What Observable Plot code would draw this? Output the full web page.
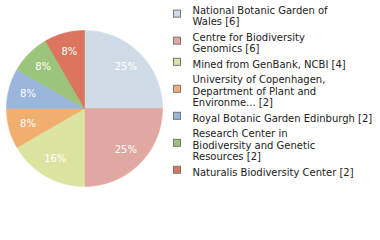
<!DOCTYPE html>
<html>
<head>
<meta charset="utf-8">
<script src="https://cdn.jsdelivr.net/npm/d3@7"></script>
<script src="https://cdn.jsdelivr.net/npm/@observablehq/plot@0.6"></script>
<style>
  html, body { margin: 0; padding: 0; background: #fff; }
  #chart { width: 380px; height: 240px; }
</style>
</head>
<body>
<div id="chart"></div>
<script>
// ---- data ----
const names = [
  "National Botanic Garden of\nWales",
  "Centre for Biodiversity\nGenomics",
  "Mined from GenBank, NCBI",
  "University of Copenhagen,\nDepartment of Plant and\nEnvironme...",
  "Royal Botanic Garden Edinburgh",
  "Research Center in\nBiodiversity and Genetic\nResources",
  "Naturalis Biodiversity Center"
];
const counts = [6, 6, 4, 2, 2, 2, 2];
const colors = ["#cfdbe6", "#e0a8a1", "#dde3a0", "#f0ae6f", "#9ab6dd", "#9dc47b", "#dc755e"];

// ---- layout ----
const W = 380, H = 240;
const cx = 84, cy = 108, R = 78;
const total = d3.sum(counts);
const arcs = d3.pie().sort(null).value(d => d)(counts);

const slices = arcs.map((a, i) => {
  const n = Math.max(2, Math.ceil((a.endAngle - a.startAngle) / 0.01));
  const pts = [{x: cx, y: cy}];
  for (let k = 0; k <= n; k++) {
    const t = a.startAngle + (a.endAngle - a.startAngle) * k / n;
    pts.push({x: cx + R * Math.sin(t), y: cy - R * Math.cos(t)});
  }
  pts.push({x: cx, y: cy});
  return {pts, color: colors[i]};
});

const labels = arcs.map((a, i) => {
  const m = (a.startAngle + a.endAngle) / 2;
  const rr = R * 0.75;
  return {x: cx + rr * Math.sin(m), y: cy - rr * Math.cos(m),
          text: Math.floor(counts[i] / total * 100) + "%"};
});

const LH = 11.7, GAP = 3.6;
let yy = 9.3;
const legend = names.map((nm, i) => {
  const text = nm + " [" + counts[i] + "]";
  const nl = text.split("\n").length;
  const center = yy + (nl - 1) * LH / 2;
  yy += nl * LH + GAP;
  return {text, center, color: colors[i]};
});

const chart = Plot.plot({
  width: W, height: H,
  margin: 0,
  x: {domain: [0, W], range: [0, W], axis: null},
  y: {domain: [0, H], range: [0, H], axis: null},
  style: {fontFamily: "DejaVu Sans", fontSize: "10px", background: "#fff"},
  marks: [
    ...slices.map(s => Plot.line(s.pts, {x: "x", y: "y", fill: s.color, stroke: s.color, strokeWidth: 0.6, curve: "linear"})),
    Plot.text(labels, {x: "x", y: "y", text: "text", fill: "#fff", fontSize: 10, textAnchor: "middle"}),
    Plot.rect(legend, {x1: d => 173.5, x2: d => 180.5, y1: d => d.center - 5, y2: d => d.center + 2, fill: "color", stroke: "#777", strokeWidth: 1}),
    Plot.text(legend, {x: d => 192, y: "center", text: "text", fill: "#222", fontSize: 10, textAnchor: "start", lineHeight: 1.17, lineAnchor: "middle"})
  ]
});
document.getElementById("chart").appendChild(chart);
</script>
</body>
</html>
